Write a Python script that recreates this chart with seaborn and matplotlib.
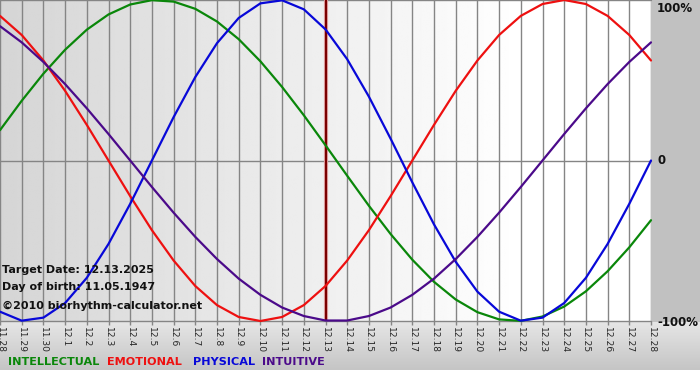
import numpy as np
import pandas as pd
import matplotlib
matplotlib.use("Agg")
import matplotlib.pyplot as plt
import seaborn as sns

sns.set_theme(style="white")
plt.rcParams['font.family'] = ['DejaVu Sans']

dates = ["11.28", "11.29", "11.30"] + [f"12.{d}" for d in range(1, 29)]

physical = [-94.2, -99.8, -97.9, -88.8, -73.1, -52.0, -27.0, 0.0, 27.0, 52.0,
            73.1, 88.8, 97.9, 99.8, 94.2, 81.7, 63.1, 39.8, 13.6, -13.6,
            -39.8, -63.1, -81.7, -94.2, -99.8, -97.9, -88.8, -73.1, -52.0, -27.0, 0.0]
emotional = [90.1, 78.2, 62.3, 43.4, 22.2, 0.0, -22.2, -43.4, -62.3, -78.2,
             -90.1, -97.5, -100.0, -97.5, -90.1, -78.2, -62.3, -43.4, -22.2, 0.0,
             22.2, 43.4, 62.3, 78.2, 90.1, 97.5, 100.0, 97.5, 90.1, 78.2, 62.3]
intellectual = [18.9, 37.2, 54.1, 69.0, 81.5, 91.0, 97.2, 99.9, 99.0, 94.5,
                86.6, 75.6, 61.8, 45.8, 28.2, 9.5, -9.5, -28.2, -45.8, -61.8,
                -75.6, -86.6, -94.5, -99.0, -99.9, -97.2, -91.0, -81.5, -69.0, -54.1, -37.2]
intuitive = [83.7, 73.6, 61.4, 47.6, 32.5, 16.5, 0.0, -16.5, -32.5, -47.6,
             -61.4, -73.6, -83.7, -91.6, -96.9, -99.7, -99.7, -96.9, -91.6, -83.7,
             -73.6, -61.4, -47.6, -32.5, -16.5, 0.0, 16.5, 32.5, 47.6, 61.4, 73.6]

series_names = ["INTELLECTUAL", "EMOTIONAL", "PHYSICAL", "INTUITIVE"]
series_vals = [intellectual, emotional, physical, intuitive]
colors = {"INTELLECTUAL": "#0a870a", "EMOTIONAL": "#ee1010",
          "PHYSICAL": "#0808d8", "INTUITIVE": "#4b0a8a"}
target_date = "12.13"
y_ticks = [100, 0, -100]
y_tick_labels = ["100%", "0", "-100%"]

rows = []
for name, vals in zip(series_names, series_vals):
    for i, v in enumerate(vals):
        rows.append({"day": i, "value": v, "cycle": name})
df = pd.DataFrame(rows)

W, H = 700, 380
fig = plt.figure(figsize=(W / 100, H / 100), dpi=100)
fig.patch.set_facecolor("white")

# background axes (figure-level gradients)
bg = fig.add_axes([0, 0, 1, 1], zorder=0)
img = np.ones((H, W, 3))
img[:, :, :] = 0.76
for r in range(322, 370):
    t = (r - 322) / 48
    img[r, :, :] = 0.90 - 0.13 * t
img[370:, :, :] = 1.0
bg.imshow(img, extent=[0, W, H, 0], aspect="auto", interpolation="bilinear")
bg.set_xlim(0, W)
bg.set_ylim(H, 0)
bg.axis("off")

left, top = 0, 0
pw, ph = 651, 321
ax = fig.add_axes([left / W, 1 - (top + ph) / H, pw / W, ph / H], zorder=1)
ax.set_xlim(0, len(dates) - 1)
ax.set_ylim(-100, 100)

# plot area gradient
grad = np.clip(0.835 + 0.165 * np.linspace(0, 1, 400) / 0.8, 0, 1)
gimg = np.tile(grad, (10, 1))
ax.imshow(gimg, extent=[0, len(dates) - 1, -100, 100], aspect="auto", cmap="gray",
          vmin=0, vmax=1, zorder=0, interpolation="bilinear")

for i in range(len(dates)):
    ax.axvline(i, color="#858585", lw=1.0, zorder=1)
for yv in y_ticks:
    ax.axhline(yv, color="#858585", lw=1.0, zorder=1, clip_on=False)

ti = dates.index(target_date)
ax.axvline(ti, color="#e0a0a0", lw=3.0, zorder=2)
ax.axvline(ti, color="#7a0000", lw=1.5, zorder=2)

sns.lineplot(data=df, x="day", y="value", hue="cycle", palette=colors,
             hue_order=series_names, linewidth=1.6, legend=False, ax=ax,
             zorder=3, clip_on=False)
for ln in ax.get_lines():
    ln.set_solid_joinstyle("round")
    ln.set_solid_capstyle("round")

ax.set_xticks(range(len(dates)))
ax.set_xticklabels(dates, rotation=270, fontsize=6.6)
ax.tick_params(axis="x", length=3, width=1, color="#858585", pad=1, bottom=True)
ax.set_yticks([])
ax.set_xlabel("")
ax.set_ylabel("")
for s in ax.spines.values():
    s.set_visible(False)

label_y = [8, 161, 322]
for ypx, lab in zip(label_y, y_tick_labels):
    fig.text(657 / W, 1 - ypx / H, lab, fontsize=8.5, fontweight="bold",
             ha="left", va="center", color="#111111")

fig.text(2 / W, 1 - 270 / H, "Target Date: 12.13.2025", fontsize=8,
         fontweight="bold", ha="left", va="center", color="#111111", zorder=5)
fig.text(2 / W, 1 - 287 / H, "Day of birth: 11.05.1947", fontsize=8,
         fontweight="bold", ha="left", va="center", color="#111111", zorder=5)
fig.text(2 / W, 1 - 306 / H, "©2010 biorhythm-calculator.net", fontsize=8,
         fontweight="bold", ha="left", va="center", color="#111111", zorder=5)

xpos = [8, 107, 193, 262]
for name, xp in zip(series_names, xpos):
    fig.text(xp / W, 1 - 362 / H, name, fontsize=8.1, fontweight="bold",
             ha="left", va="center", color=colors[name])

fig.savefig("out.png", dpi=100)
